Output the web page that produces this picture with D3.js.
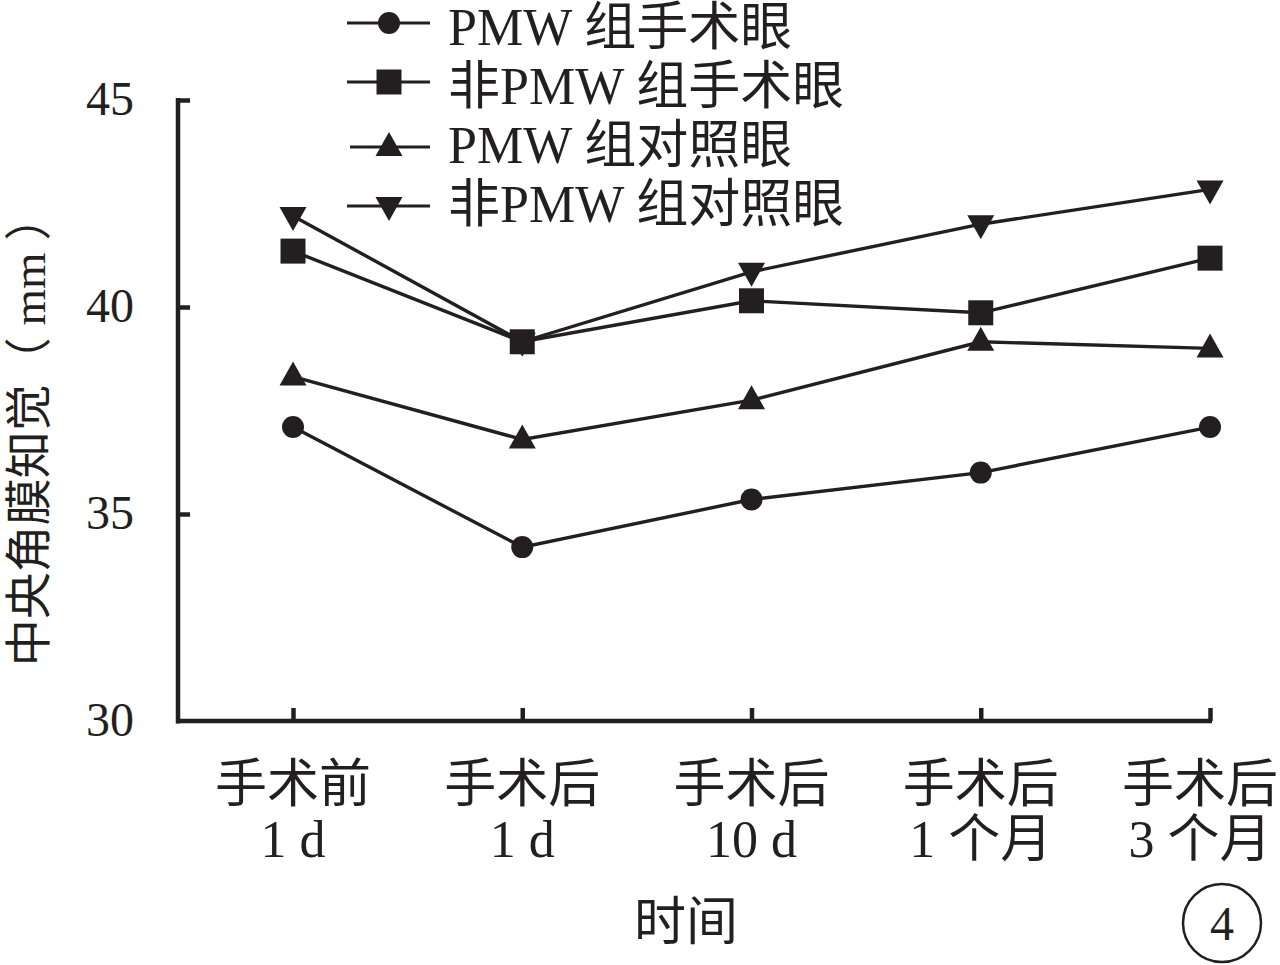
<!DOCTYPE html>
<html>
<head>
<meta charset="utf-8">
<script src="https://cdn.jsdelivr.net/npm/d3@7/dist/d3.min.js"></script>
<style>
  html, body { margin: 0; padding: 0; background: #fff; }
  svg { display: block; }
  text { fill: #231f20; }
</style>
</head>
<body>
<svg id="chart" width="1280" height="965"></svg>
<script>
// ---- data ----
const categories = ["手术前|1 d", "手术后|1 d", "手术后|10 d", "手术后|1 个月", "手术后|3 个月"];
const seriesNames = ["PMW 组手术眼", "非PMW 组手术眼", "PMW 组对照眼", "非PMW 组对照眼"];
const pmwOperated    = [37.1, 34.2, 35.35, 36.0, 37.1];
const nonPmwOperated = [41.35, 39.16, 40.15, 39.86, 41.18];
const pmwControl     = [38.32, 36.8, 37.75, 39.16, 39.0];
const nonPmwControl  = [42.2, 39.16, 40.85, 42.0, 42.84];
const yTicks = [30, 35, 40, 45];
const yTitle = "中央角膜知觉（ mm ）";
const xTitle = "时间";
const panelLabel = "4";

const seriesValues = [pmwOperated, nonPmwOperated, pmwControl, nonPmwControl];
const markerTypes = ["circle", "square", "up", "down"];

// ---- setup ----
const ink = "#231f20";
const serif = "'Liberation Serif', 'Times New Roman', 'Noto Sans CJK SC', serif";
const svg = d3.select("#chart");

const x = d3.scalePoint().domain(categories).range([293, 1210]);
const y = d3.scaleLinear().domain([30, 45]).range([721, 100]);

const axisLeftX = 178, axisRightX = 1212;

function markerPath(type) {
  if (type === "circle") return d3.symbol().type(d3.symbolCircle).size(Math.PI * 11 * 11)();
  if (type === "square") { const h = 12.5; return `M${-h},${-h}H${h}V${h}H${-h}Z`; }
  if (type === "up") return "M0,-15L13.5,9L-13.5,9Z";
  if (type === "down") return "M0,15L13.5,-9L-13.5,-9Z";
}

// ---- y axis ----
const yAxis = d3.axisLeft(y).tickValues(yTicks).tickSizeInner(-12).tickSizeOuter(0).tickPadding(44);
const gy = svg.append("g").attr("transform", `translate(${axisLeftX},0)`).call(yAxis);
gy.select(".domain").remove();
gy.selectAll(".tick line").attr("stroke", ink).attr("stroke-width", 4.5);
gy.selectAll(".tick text")
  .attr("font-family", serif).attr("font-size", 48).attr("fill", ink).attr("dy", "0.3em");
gy.selectAll(".tick").filter(d => d === 30).select("line").remove();

svg.append("line").attr("x1", axisLeftX).attr("x2", axisLeftX)
  .attr("y1", y(45) - 2).attr("y2", y(30) + 2.5)
  .attr("stroke", ink).attr("stroke-width", 4.5);

// ---- x axis ----
const xAxis = d3.axisBottom(x).tickSizeInner(-13).tickSizeOuter(0).tickFormat(() => "");
const gx = svg.append("g").attr("transform", `translate(0,${y(30)})`).call(xAxis);
gx.select(".domain").remove();
gx.selectAll(".tick line").attr("stroke", ink).attr("stroke-width", 4.5);
gx.selectAll(".tick text").remove();

svg.append("line").attr("x1", axisLeftX - 2).attr("x2", axisRightX)
  .attr("y1", y(30)).attr("y2", y(30))
  .attr("stroke", ink).attr("stroke-width", 4.5);

// x tick labels (two lines)
const labelG = svg.append("g");
categories.forEach((c, i) => {
  const parts = c.split("|");
  const shift = i === categories.length - 1 ? -10 : 0;
  const t = labelG.append("text")
    .attr("font-family", serif).attr("font-size", 52).attr("fill", ink)
    .attr("text-anchor", "middle");
  t.append("tspan").attr("x", x(c) + shift).attr("y", 802).text(parts[0]);
  t.append("tspan").attr("x", x(c) + shift).attr("y", 857).text(parts[1]);
});

// ---- lines and markers ----
const line = d3.line().x((d, i) => x(categories[i])).y(d => y(d));
seriesValues.forEach((vals) => {
  svg.append("path").datum(vals).attr("d", line)
    .attr("fill", "none").attr("stroke", ink).attr("stroke-width", 3.4);
});
seriesValues.forEach((vals, si) => {
  svg.append("g").selectAll("path").data(vals).join("path")
    .attr("d", markerPath(markerTypes[si]))
    .attr("transform", (d, i) => `translate(${x(categories[i])},${y(d)})`)
    .attr("fill", ink);
});

// ---- legend ----
const legendRows = [
  { lineY: 23, textY: 45, x1: 347 },
  { lineY: 82, textY: 104, x1: 347 },
  { lineY: 147, textY: 163, x1: 350 },
  { lineY: 206, textY: 222, x1: 347 }
];
seriesNames.forEach((name, i) => {
  const r = legendRows[i];
  const g = svg.append("g");
  g.append("line").attr("x1", r.x1).attr("x2", 430).attr("y1", r.lineY).attr("y2", r.lineY)
    .attr("stroke", ink).attr("stroke-width", 3.2);
  g.append("path").attr("d", markerPath(markerTypes[i]))
    .attr("transform", `translate(389,${r.lineY})`).attr("fill", ink);
  g.append("text").attr("x", 448).attr("y", r.textY)
    .attr("font-family", serif).attr("font-size", 52).attr("fill", ink)
    .text(name);
});

// ---- titles ----
svg.append("text")
  .attr("transform", "translate(45,430) rotate(-90)")
  .attr("text-anchor", "middle")
  .attr("font-family", serif).attr("font-size", 47).attr("fill", ink)
  .text(yTitle);

svg.append("text").attr("x", 686).attr("y", 940).attr("text-anchor", "middle")
  .attr("font-family", serif).attr("font-size", 52).attr("fill", ink)
  .text(xTitle);

// panel label
svg.append("circle").attr("cx", 1222).attr("cy", 923).attr("r", 39)
  .attr("fill", "none").attr("stroke", ink).attr("stroke-width", 2.5);
svg.append("text").attr("x", 1222).attr("y", 940).attr("text-anchor", "middle")
  .attr("font-family", serif).attr("font-size", 48).attr("fill", ink)
  .text(panelLabel);
</script>
</body>
</html>
